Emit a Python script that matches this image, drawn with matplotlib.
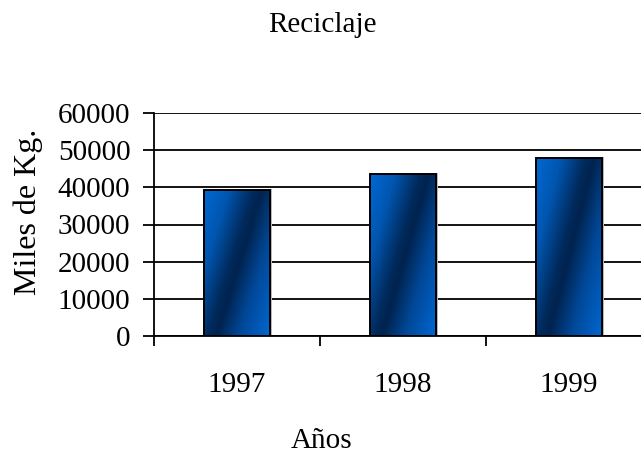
import matplotlib
matplotlib.use("Agg")
import matplotlib.pyplot as plt
import numpy as np
from matplotlib import transforms
from matplotlib.colors import LinearSegmentedColormap

plt.rcParams['font.family'] = ['Liberation Serif', 'DejaVu Serif']

# Reciclaje por año (miles de kg)
years = ['1997', '1998', '1999']
recycled = [39300, 43500, 47900]
y_ticks = [0, 10000, 20000, 30000, 40000, 50000, 60000]

fig = plt.figure(figsize=(6.41, 4.55), dpi=100)
W, H = 641, 455
ax = fig.add_axes([154 / W, (H - 336) / H, (652 - 154) / W, (336 - 113) / H])

# horizontal grid at every major tick
for y in y_ticks:
    ax.axhline(y, color='black', lw=1.3, zorder=1)

# diagonal light-dark-light blue gradient used to fill the bars
cmap = LinearSegmentedColormap.from_list(
    'bar_grad', [(0.0, '#0068d2'), (0.22, '#0056b0'), (0.44, '#002a5c'),
                 (0.52, '#00234f'), (0.72, '#004898'), (1.0, '#0068d2')])
gx, gy = np.meshgrid(np.linspace(0, 1, 60), np.linspace(0, 1, 200))
grad = gx + 0.7 * (1 - gy)

xpos = np.arange(len(years)) + 0.5
bars = ax.bar(xpos, recycled, width=0.4, facecolor='none', edgecolor='black',
              lw=1.4, zorder=4)
shift = transforms.ScaledTranslation(2 / 100, 1 / 100, fig.dpi_scale_trans)
for b in bars:
    x0, w, h = b.get_x(), b.get_width(), b.get_height()
    # light grey drop shadow, nudged right and up
    shadow = plt.Rectangle((x0, 0), w, h, facecolor='#b8b8b8', edgecolor='none',
                           zorder=2)
    ax.add_patch(shadow)
    shadow.set_transform(ax.transData + shift)
    im = ax.imshow(grad, cmap=cmap, vmin=0, vmax=1.7, aspect='auto',
                   extent=(x0, x0 + w, 0, h), origin='lower', zorder=3)
    im.set_clip_path(b)
ax.set_xlim(0, 3)
ax.set_ylim(0, 60000)

ax.set_yticks(y_ticks)
ax.set_yticklabels([str(v) for v in y_ticks])
ax.tick_params(axis='y', direction='out', length=8, width=1.3, pad=9,
               labelsize=21)

ax.set_xticks([0, 1, 2, 3])
ax.set_xticklabels([])
ax.set_xticks(xpos, minor=True)
ax.set_xticklabels(years, minor=True)
ax.tick_params(axis='x', which='major', direction='out', length=7, width=1.3)
ax.tick_params(axis='x', which='minor', length=0, pad=26, labelsize=21)

for s in ['top', 'right']:
    ax.spines[s].set_visible(False)
ax.spines['left'].set_linewidth(1.3)
ax.spines['bottom'].set_linewidth(1.3)

fig.text(28 / W, 1 - 212 / H, 'Miles de Kg.', rotation=90, ha='center',
         va='center', fontsize=23)
fig.text(322 / W, 1 - 25 / H, 'Reciclaje', ha='center', va='center', fontsize=21)
fig.text(322 / W, 1 - 441 / H, 'Años', ha='center', va='center', fontsize=21)

fig.savefig('out.png', dpi=100)
